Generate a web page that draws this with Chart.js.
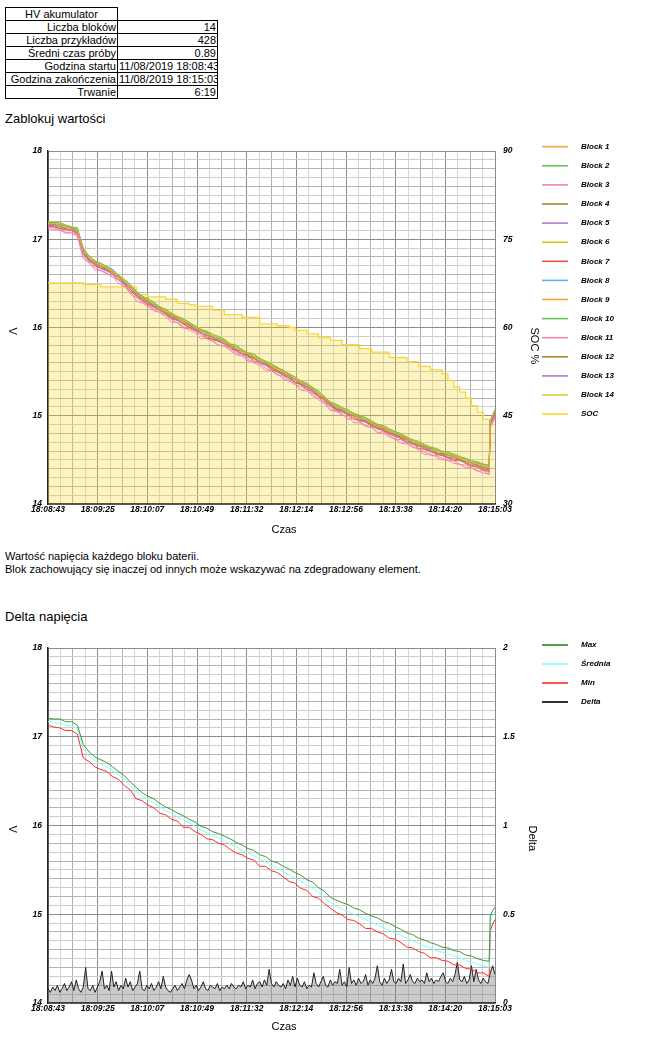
<!DOCTYPE html>
<html><head><meta charset="utf-8">
<script src="https://cdn.jsdelivr.net/npm/chart.js@4.4.1/dist/chart.umd.min.js"></script>
<style>
html,body{margin:0;padding:0;width:658px;height:1038px;overflow:hidden;background:#fff;font-family:"Liberation Sans",Arial,sans-serif;color:#000;}
table{position:absolute;left:5px;top:7px;width:212px;border-collapse:collapse;table-layout:fixed;font-size:11px;}
td{border:1px solid #000;padding:0 1px;height:12px;line-height:12px;white-space:nowrap;text-align:right;overflow:hidden;}
td.h{text-align:center;}
td.e{border-top:none;border-right:none;}
.hd{position:absolute;left:5px;font-size:13px;line-height:15px;}
.tx{position:absolute;left:5px;font-size:11px;line-height:13px;}
canvas{position:absolute;left:0;}
</style></head>
<body>
<table>
<colgroup><col style="width:112px"><col style="width:100px"></colgroup>
<tr><td class="h">HV akumulator</td><td class="e"></td></tr>
<tr><td>Liczba bloków</td><td>14</td></tr>
<tr><td>Liczba przykładów</td><td>428</td></tr>
<tr><td>Średni czas próby</td><td>0.89</td></tr>
<tr><td>Godzina startu</td><td>11/08/2019 18:08:43</td></tr>
<tr><td>Godzina zakończenia</td><td>11/08/2019 18:15:03</td></tr>
<tr><td>Trwanie</td><td>6:19</td></tr>
</table>
<div class="hd" style="top:111px">Zablokuj wartości</div>
<canvas id="c1" width="658" height="410" style="top:135px;width:658px;height:410px"></canvas>
<div class="tx" style="top:550px">Wartość napięcia każdego bloku baterii.<br>Blok zachowujący się inaczej od innych może wskazywać na zdegradowany element.</div>
<div class="hd" style="top:609px">Delta napięcia</div>
<canvas id="c2" width="658" height="406" style="top:632px;width:658px;height:406px"></canvas>
<script>
const xTickLabels = ['18:08:43','18:09:25','18:10:07','18:10:49','18:11:32','18:12:14','18:12:56','18:13:38','18:14:20','18:15:03'];
const times = [0,5,10,15,20,25,30,35,40,45,50,55,60,65,70,75,80,85,90,95,100,105,110,115,120,125,130,135,140,145,150,155,160,165,170,175,180,185,190,195,200,205,210,215,220,225,230,235,240,245,250,255,260,265,270,275,280,285,290,295,300,305,310,315,320,325,330,335,340,345,350,355,360,365,370,375,376,378,380];
const blockLabels = ['Block 1','Block 2','Block 3','Block 4','Block 5','Block 6','Block 7','Block 8','Block 9','Block 10','Block 11','Block 12','Block 13','Block 14'];
const blockColors = ['#f7a536','#6cc05c','#f083b8','#a88a2a','#b07cc4','#d8ca22','#e5534b','#66a8e0','#f7a536','#6cc05c','#f083b8','#a88a2a','#b07cc4','#e0d040'];
const block1 = [17.18,17.18,17.15,17.14,17.14,17.10,16.86,16.80,16.74,16.70,16.68,16.63,16.57,16.53,16.46,16.38,16.34,16.31,16.26,16.21,16.18,16.15,16.11,16.06,16.05,16.00,15.96,15.94,15.89,15.87,15.85,15.80,15.76,15.73,15.71,15.67,15.62,15.61,15.56,15.53,15.49,15.46,15.41,15.38,15.35,15.30,15.24,15.20,15.15,15.10,15.08,15.04,15.01,14.97,14.96,14.92,14.88,14.87,14.83,14.80,14.77,14.75,14.70,14.68,14.66,14.62,14.60,14.59,14.56,14.53,14.53,14.49,14.46,14.46,14.43,14.41,14.93,15.00,15.04];
const block2 = [17.19,17.19,17.19,17.16,17.14,17.13,16.89,16.81,16.75,16.73,16.69,16.66,16.59,16.54,16.49,16.41,16.35,16.33,16.28,16.23,16.21,16.16,16.12,16.10,16.06,16.02,15.97,15.96,15.92,15.90,15.86,15.81,15.80,15.75,15.71,15.70,15.65,15.62,15.59,15.54,15.52,15.47,15.44,15.39,15.37,15.32,15.28,15.21,15.16,15.13,15.09,15.07,15.02,15.00,14.98,14.94,14.90,14.89,14.85,14.82,14.80,14.75,14.73,14.71,14.67,14.64,14.63,14.60,14.59,14.56,14.53,14.52,14.49,14.48,14.45,14.44,14.95,15.01,15.07];
const block3 = [17.13,17.13,17.11,17.08,17.08,17.05,16.80,16.74,16.65,16.65,16.62,16.57,16.54,16.47,16.38,16.34,16.30,16.24,16.21,16.17,16.14,16.09,16.05,15.99,15.99,15.96,15.91,15.87,15.85,15.80,15.79,15.76,15.71,15.68,15.62,15.62,15.59,15.54,15.51,15.46,15.45,15.40,15.35,15.33,15.30,15.22,15.20,15.16,15.08,15.05,15.02,14.96,14.97,14.93,14.89,14.87,14.81,14.82,14.78,14.73,14.73,14.69,14.64,14.63,14.59,14.55,14.55,14.52,14.49,14.49,14.45,14.44,14.41,14.37,14.38,14.33,14.88,14.93,14.99];
const block4 = [17.17,17.17,17.14,17.13,17.13,17.09,16.87,16.77,16.73,16.70,16.65,16.63,16.57,16.51,16.46,16.37,16.34,16.29,16.24,16.22,16.17,16.12,16.11,16.06,16.03,15.98,15.96,15.92,15.88,15.86,15.84,15.79,15.75,15.73,15.69,15.65,15.62,15.60,15.55,15.51,15.48,15.45,15.41,15.36,15.33,15.30,15.23,15.19,15.14,15.08,15.07,15.02,15.00,14.98,14.94,14.90,14.89,14.85,14.81,14.79,14.76,14.74,14.69,14.67,14.65,14.62,14.58,14.57,14.56,14.53,14.50,14.48,14.47,14.44,14.41,14.40,14.94,14.99,15.03];
const block5 = [17.16,17.15,17.15,17.12,17.10,17.08,16.84,16.77,16.72,16.68,16.65,16.60,16.57,16.50,16.43,16.37,16.33,16.28,16.23,16.20,16.17,16.12,16.08,16.05,16.03,15.98,15.93,15.91,15.89,15.84,15.82,15.79,15.75,15.70,15.68,15.66,15.60,15.58,15.55,15.51,15.46,15.43,15.41,15.36,15.31,15.28,15.24,15.18,15.11,15.09,15.05,15.01,15.00,14.96,14.93,14.89,14.87,14.85,14.80,14.78,14.76,14.72,14.68,14.66,14.64,14.60,14.58,14.56,14.53,14.53,14.50,14.46,14.45,14.44,14.40,14.39,14.91,14.97,15.03];
const block6 = [17.19,17.18,17.18,17.15,17.14,17.12,16.88,16.80,16.76,16.71,16.69,16.63,16.59,16.54,16.47,16.41,16.34,16.31,16.28,16.23,16.19,16.16,16.11,16.08,16.06,16.01,15.98,15.93,15.91,15.89,15.84,15.81,15.79,15.74,15.70,15.69,15.64,15.62,15.57,15.53,15.51,15.46,15.42,15.40,15.35,15.32,15.26,15.20,15.16,15.11,15.08,15.06,15.02,14.98,14.97,14.93,14.91,14.86,14.84,14.82,14.79,14.75,14.71,14.70,14.66,14.65,14.61,14.58,14.58,14.55,14.54,14.50,14.49,14.45,14.44,14.43,14.94,15.01,15.05];
const block7 = [17.15,17.14,17.12,17.11,17.10,17.06,16.83,16.76,16.70,16.67,16.65,16.60,16.54,16.49,16.41,16.37,16.31,16.26,16.23,16.20,16.15,16.10,16.09,16.04,16.00,15.97,15.94,15.88,15.87,15.84,15.82,15.76,15.74,15.70,15.68,15.62,15.60,15.58,15.52,15.50,15.46,15.43,15.38,15.35,15.30,15.28,15.22,15.15,15.12,15.07,15.05,15.01,14.96,14.95,14.93,14.88,14.86,14.83,14.79,14.78,14.74,14.70,14.69,14.63,14.62,14.61,14.56,14.55,14.53,14.49,14.50,14.46,14.43,14.42,14.38,14.37,14.90,14.96,15.01];
const block8 = [17.19,17.17,17.16,17.15,17.13,17.10,16.88,16.79,16.75,16.70,16.67,16.64,16.58,16.51,16.47,16.39,16.35,16.29,16.26,16.23,16.17,16.14,16.12,16.08,16.03,16.00,15.97,15.93,15.89,15.88,15.84,15.81,15.76,15.74,15.70,15.67,15.64,15.59,15.57,15.53,15.50,15.44,15.42,15.39,15.34,15.29,15.26,15.20,15.14,15.11,15.07,15.05,15.00,14.99,14.95,14.93,14.88,14.86,14.84,14.80,14.78,14.74,14.71,14.67,14.66,14.63,14.61,14.58,14.55,14.55,14.52,14.50,14.47,14.45,14.44,14.41,14.94,14.99,15.05];
const block9 = [17.16,17.16,17.13,17.12,17.11,17.07,16.85,16.78,16.71,16.69,16.66,16.61,16.55,16.51,16.44,16.37,16.31,16.29,16.24,16.19,16.16,16.13,16.09,16.04,16.02,15.99,15.94,15.90,15.89,15.85,15.81,15.78,15.76,15.71,15.68,15.64,15.62,15.58,15.53,15.52,15.47,15.42,15.41,15.36,15.33,15.27,15.23,15.19,15.11,15.08,15.06,15.02,14.98,14.96,14.94,14.90,14.86,14.84,14.82,14.77,14.75,14.73,14.69,14.65,14.63,14.62,14.57,14.56,14.55,14.51,14.51,14.47,14.44,14.43,14.42,14.38,14.91,14.98,15.02];
const block10 = [17.20,17.18,17.17,17.16,17.14,17.11,16.89,16.80,16.75,16.72,16.67,16.65,16.59,16.54,16.46,16.40,16.36,16.31,16.28,16.22,16.20,16.15,16.12,16.09,16.04,16.02,15.97,15.95,15.90,15.88,15.86,15.80,15.78,15.75,15.71,15.67,15.65,15.61,15.57,15.55,15.50,15.47,15.42,15.39,15.36,15.31,15.25,15.22,15.15,15.12,15.07,15.05,15.03,14.99,14.97,14.92,14.90,14.88,14.84,14.82,14.78,14.76,14.72,14.68,14.67,14.64,14.62,14.58,14.57,14.56,14.53,14.51,14.47,14.47,14.44,14.43,14.95,15.00,15.06];
const block11 = [17.12,17.11,17.10,17.07,17.07,17.03,16.78,16.73,16.68,16.64,16.61,16.58,16.50,16.46,16.41,16.30,16.28,16.24,16.19,16.17,16.12,16.06,16.06,16.01,15.97,15.94,15.87,15.88,15.84,15.80,15.79,15.74,15.69,15.68,15.64,15.60,15.57,15.51,15.51,15.47,15.42,15.39,15.37,15.29,15.28,15.25,15.18,15.14,15.06,15.05,15.01,14.99,14.92,14.92,14.88,14.87,14.81,14.80,14.76,14.74,14.69,14.68,14.66,14.61,14.56,14.57,14.53,14.50,14.50,14.46,14.45,14.41,14.41,14.38,14.35,14.34,14.87,14.92,14.98];
const block12 = [17.18,17.16,17.16,17.15,17.12,17.10,16.87,16.80,16.74,16.69,16.68,16.62,16.58,16.53,16.46,16.38,16.35,16.30,16.25,16.22,16.18,16.15,16.10,16.07,16.05,15.99,15.96,15.94,15.90,15.86,15.85,15.80,15.76,15.73,15.71,15.67,15.64,15.59,15.56,15.54,15.48,15.46,15.42,15.38,15.33,15.31,15.25,15.21,15.13,15.10,15.08,15.04,15.00,14.99,14.95,14.91,14.90,14.86,14.83,14.79,14.77,14.75,14.71,14.69,14.64,14.63,14.60,14.59,14.55,14.54,14.53,14.48,14.47,14.46,14.43,14.41,14.94,14.99,15.03];
const block13 = [17.15,17.15,17.12,17.11,17.11,17.07,16.84,16.75,16.72,16.67,16.64,16.61,16.54,16.49,16.44,16.35,16.31,16.26,16.24,16.19,16.16,16.10,16.08,16.04,16.02,15.96,15.94,15.90,15.86,15.85,15.81,15.78,15.73,15.70,15.66,15.65,15.60,15.57,15.54,15.49,15.47,15.42,15.38,15.36,15.31,15.26,15.22,15.18,15.11,15.06,15.04,15.02,14.98,14.94,14.93,14.89,14.85,14.84,14.80,14.76,14.75,14.70,14.68,14.66,14.62,14.59,14.58,14.55,14.52,14.51,14.49,14.47,14.43,14.42,14.39,14.38,14.90,14.95,15.01];
const block14 = [17.20,17.19,17.19,17.16,17.14,17.12,16.90,16.81,16.76,16.71,16.70,16.65,16.59,16.55,16.48,16.42,16.35,16.32,16.29,16.24,16.19,16.17,16.13,16.10,16.06,16.01,15.99,15.95,15.93,15.88,15.87,15.82,15.80,15.74,15.72,15.70,15.65,15.61,15.59,15.55,15.51,15.48,15.44,15.39,15.37,15.32,15.28,15.22,15.15,15.13,15.10,15.05,15.03,15.01,14.97,14.95,14.90,14.88,14.86,14.82,14.79,14.77,14.72,14.70,14.68,14.65,14.63,14.59,14.58,14.57,14.55,14.51,14.50,14.47,14.46,14.43,14.96,15.01,15.07];
const soc = [67.6,67.6,67.6,67.6,67.6,67.6,67.6,67.3,67.3,67.3,66.9,66.9,66.9,66.9,66.9,66.9,65.6,65.6,65.2,65.2,65.2,64.8,64.8,64.1,64.1,63.9,63.6,63.6,63.6,62.9,62.9,62.2,62.2,62.2,61.7,61.7,61.7,60.6,60.6,60.6,60.3,60.3,60.0,59.5,59.5,58.9,58.9,58.3,58.3,57.8,57.8,57.1,57.1,57.1,56.4,56.4,55.8,55.8,55.8,54.9,54.9,54.9,54.2,54.2,53.4,53.4,52.8,52.8,52.1,51.0,49.9,49.0,48.0,46.7,45.6,44.4,44.2,44.2,44.2];
const maxV = [17.21,17.20,17.20,17.17,17.17,17.13,16.91,16.83,16.77,16.74,16.71,16.66,16.61,16.56,16.49,16.43,16.37,16.33,16.30,16.25,16.21,16.18,16.14,16.11,16.07,16.04,15.99,15.97,15.93,15.91,15.88,15.85,15.81,15.78,15.74,15.72,15.67,15.65,15.60,15.58,15.54,15.51,15.47,15.44,15.39,15.36,15.30,15.26,15.19,15.16,15.13,15.11,15.07,15.05,15.01,14.98,14.96,14.92,14.90,14.86,14.83,14.79,14.77,14.73,14.71,14.68,14.66,14.63,14.62,14.59,14.58,14.54,14.53,14.50,14.48,14.47,14.98,15.04,15.08];
const avgV = [17.17,17.16,17.15,17.13,17.12,17.09,16.86,16.78,16.73,16.69,16.66,16.62,16.57,16.51,16.45,16.38,16.33,16.29,16.25,16.21,16.17,16.13,16.10,16.06,16.03,15.99,15.95,15.92,15.89,15.86,15.83,15.79,15.76,15.72,15.69,15.66,15.62,15.59,15.55,15.52,15.48,15.44,15.41,15.37,15.33,15.29,15.24,15.19,15.13,15.09,15.06,15.03,15.00,14.97,14.94,14.91,14.88,14.85,14.82,14.79,14.76,14.73,14.70,14.67,14.64,14.62,14.59,14.57,14.55,14.53,14.51,14.48,14.46,14.44,14.42,14.40,14.92,14.98,15.03];
const minV = [17.13,17.11,17.10,17.07,17.07,17.03,16.76,16.72,16.66,16.63,16.61,16.55,16.52,16.45,16.40,16.30,16.28,16.23,16.20,16.14,16.12,16.07,16.05,15.98,15.98,15.93,15.90,15.85,15.84,15.80,15.78,15.73,15.69,15.67,15.63,15.61,15.54,15.54,15.49,15.47,15.42,15.37,15.35,15.29,15.27,15.20,15.18,15.12,15.07,15.02,14.99,14.94,14.93,14.89,14.84,14.84,14.80,14.78,14.73,14.72,14.68,14.63,14.62,14.58,14.56,14.51,14.51,14.48,14.47,14.43,14.43,14.39,14.38,14.34,14.34,14.30,14.81,14.89,14.94];
const deltaTimes = [0,2,4,6,8,10,12,14,16,18,20,22,24,26,28,30,32,34,36,38,40,42,44,46,48,50,52,54,56,58,60,62,64,66,68,70,72,74,76,78,80,82,84,86,88,90,92,94,96,98,100,102,104,106,108,110,112,114,116,118,120,122,124,126,128,130,132,134,136,138,140,142,144,146,148,150,152,154,156,158,160,162,164,166,168,170,172,174,176,178,180,182,184,186,188,190,192,194,196,198,200,202,204,206,208,210,212,214,216,218,220,222,224,226,228,230,232,234,236,238,240,242,244,246,248,250,252,254,256,258,260,262,264,266,268,270,272,274,276,278,280,282,284,286,288,290,292,294,296,298,300,302,304,306,308,310,312,314,316,318,320,322,324,326,328,330,332,334,336,338,340,342,344,346,348,350,352,354,356,358,360,362,364,366,368,370,372,374,376,378,380];
const deltaV = [0.08,0.06,0.09,0.07,0.10,0.06,0.08,0.11,0.07,0.09,
0.12,0.07,0.13,0.08,0.06,0.09,0.20,0.08,0.07,0.10,
0.06,0.09,0.12,0.18,0.08,0.10,0.07,0.18,0.09,0.12,
0.07,0.10,0.08,0.14,0.09,0.12,0.07,0.09,0.11,0.18,
0.08,0.07,0.10,0.08,0.11,0.07,0.09,0.12,0.08,0.15,
0.09,0.07,0.06,0.08,0.10,0.07,0.09,0.11,0.08,0.13,
0.16,0.13,0.08,0.10,0.07,0.09,0.12,0.08,0.07,0.10,
0.09,0.08,0.11,0.07,0.09,0.08,0.10,0.08,0.11,0.09,
0.08,0.10,0.09,0.12,0.08,0.10,0.09,0.13,0.08,0.11,
0.12,0.09,0.13,0.10,0.19,0.11,0.09,0.12,0.10,0.09,
0.11,0.08,0.13,0.10,0.15,0.09,0.14,0.10,0.09,0.12,
0.08,0.10,0.09,0.17,0.11,0.09,0.12,0.15,0.10,0.09,
0.13,0.10,0.12,0.11,0.19,0.10,0.12,0.09,0.20,0.11,
0.13,0.10,0.14,0.11,0.12,0.16,0.10,0.13,0.11,0.14,
0.21,0.12,0.10,0.14,0.11,0.13,0.19,0.12,0.11,0.14,
0.12,0.22,0.11,0.13,0.16,0.12,0.11,0.14,0.12,0.13,
0.11,0.17,0.12,0.14,0.11,0.13,0.12,0.15,0.17,0.12,
0.11,0.14,0.12,0.16,0.23,0.13,0.12,0.15,0.11,0.13,
0.21,0.12,0.19,0.13,0.11,0.14,0.12,0.11,0.17,0.21,
0.16];

const blocks = [block1,block2,block3,block4,block5,block6,block7,block8,block9,block10,block11,block12,block13,block14];
const pts = (arr, xs) => arr.map((v,i)=>({x:(xs || times)[i], y:v}));
const FONT = '"Liberation Sans", Arial, sans-serif';
const tickFont = {family: FONT, size: 8.5, style: 'italic', weight: 'bold'};

const decor = {
  id: 'decor',
  afterDraw(chart, args, o) {
    const ctx = chart.ctx, ca = chart.chartArea;
    ctx.save();
    chart.data.datasets.forEach((ds, i) => {
      const y = o.legendTop + i * o.legendStep;
      ctx.strokeStyle = ds.legendColor || ds.borderColor;
      ctx.lineWidth = 1.6;
      ctx.beginPath(); ctx.moveTo(542, y); ctx.lineTo(568, y); ctx.stroke();
      ctx.fillStyle = '#000';
      ctx.font = 'italic bold 8px ' + FONT;
      ctx.textAlign = 'left'; ctx.textBaseline = 'middle';
      ctx.fillText(ds.label, 581, y);
    });
    const cy = (ca.top + ca.bottom) / 2;
    ctx.font = '11px ' + FONT;
    ctx.fillStyle = '#000';
    [[o.leftTitle, 12], [o.rightTitle, o.rightX]].forEach(([t, x]) => {
      ctx.save(); ctx.translate(x, cy); ctx.rotate(Math.PI / 2);
      ctx.textAlign = 'left'; ctx.textBaseline = 'middle';
      ctx.fillText(t, 0, 0); ctx.restore();
    });
    ctx.textAlign = 'center'; ctx.textBaseline = 'middle';
    ctx.fillText('Czas', 284, ca.bottom + o.czasOff);
    ctx.restore();
  }
};

function xScale(h) {
  return {
    type: 'linear', min: 0, max: 380,
    afterBuildTicks: s => { const t = []; for (let k = 0; k <= 36; k++) t.push({value: k * 380 / 36}); s.ticks = t; },
    afterFit: s => { s.height = h; },
    ticks: { autoSkip: false, maxRotation: 0, minRotation: 0, padding: 1, color: '#000', font: tickFont,
      callback: (v, i) => (i % 4 === 0 ? xTickLabels[i / 4] : '') },
    grid: { drawTicks: false, lineWidth: 1,
      color: c => (c.index % 4 === 0 ? '#8c8c8c' : (c.index % 2 === 0 ? '#b2b2b2' : '#d4d4d4')) },
    border: { color: '#222', width: 1.5 }
  };
}
function yLeft() {
  return {
    type: 'linear', position: 'left', min: 14, max: 18,
    afterBuildTicks: s => { const t = []; for (let k = 0; k <= 40; k++) t.push({value: 14 + k / 10}); s.ticks = t; },
    afterFit: s => { s.width = 48; },
    ticks: { autoSkip: false, padding: 6, color: '#000', font: tickFont,
      callback: (v, i) => (i % 10 === 0 ? String(14 + i / 10) : '') },
    grid: { drawTicks: false, lineWidth: 1,
      color: c => (c.index % 10 === 0 ? '#8c8c8c' : (c.index % 2 === 0 ? '#b4b4b4' : '#cdcdcd')) },
    border: { color: '#222', width: 1.5 }
  };
}
function yRight(min, max, step) {
  return {
    type: 'linear', position: 'right', min: min, max: max,
    afterFit: s => { s.width = 40; },
    ticks: { stepSize: step, autoSkip: false, padding: 8, color: '#000', font: tickFont,
      callback: v => String(v) },
    grid: { drawOnChartArea: false, drawTicks: false },
    border: { display: false }
  };
}

const ds1 = blocks.map((b, i) => ({
  label: blockLabels[i], data: pts(b), borderColor: blockColors[i], borderWidth: 1,
  pointRadius: 0, tension: 0, fill: false, yAxisID: 'y'
}));
ds1.push({ label: 'SOC', data: pts(soc), borderColor: '#f8d838', borderWidth: 1.3,
  backgroundColor: 'rgba(248,214,40,0.28)', fill: 'start', stepped: 'after',
  pointRadius: 0, yAxisID: 'y1' });

new Chart(document.getElementById('c1'), {
  type: 'line',
  data: { datasets: ds1 },
  options: {
    responsive: false, animation: false, devicePixelRatio: 1,
    layout: { padding: { left: 0, right: 123, top: 16, bottom: 0 } },
    scales: { x: xScale(41), y: yLeft(), y1: yRight(30, 90, 15) },
    plugins: { legend: { display: false }, tooltip: { enabled: false },
      decor: { legendTop: 11.7, legendStep: 19.1, leftTitle: 'V', rightTitle: 'SOC %', rightX: 534, czasOff: 26 } }
  },
  plugins: [decor]
});

new Chart(document.getElementById('c2'), {
  type: 'line',
  data: { datasets: [
    { label: 'Max', data: pts(maxV), borderColor: '#3a9a30', legendColor: '#228b1e', borderWidth: 1, pointRadius: 0, tension: 0, fill: false, yAxisID: 'y' },
    { label: 'Średnia', data: pts(avgV), borderColor: '#80ffff', borderWidth: 1, pointRadius: 0, tension: 0, fill: false, yAxisID: 'y' },
    { label: 'Min', data: pts(minV), borderColor: '#ff2a2a', borderWidth: 1, pointRadius: 0, tension: 0, fill: false, yAxisID: 'y' },
    { label: 'Delta', data: pts(deltaV, deltaTimes), borderColor: '#222222', legendColor: '#000', borderWidth: 1, pointRadius: 0, tension: 0,
      fill: 'start', backgroundColor: 'rgba(110,110,110,0.36)', yAxisID: 'y1' }
  ] },
  options: {
    responsive: false, animation: false, devicePixelRatio: 1,
    layout: { padding: { left: 0, right: 123, top: 16, bottom: 0 } },
    scales: { x: xScale(35), y: yLeft(), y1: yRight(0, 2, 0.5) },
    plugins: { legend: { display: false }, tooltip: { enabled: false },
      decor: { legendTop: 13, legendStep: 19, leftTitle: 'V', rightTitle: 'Delta', rightX: 532, czasOff: 24 } }
  },
  plugins: [decor]
});
</script>
</body></html>
